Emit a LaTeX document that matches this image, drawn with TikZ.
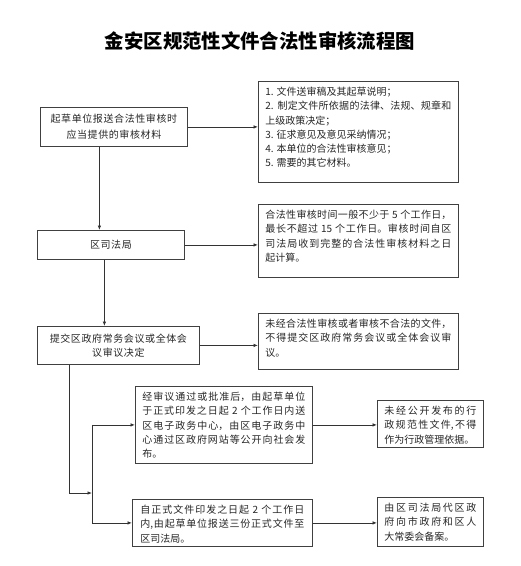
\documentclass[tikz,border=0pt]{standalone}
\usepackage{fontspec}
\setmainfont{Noto Sans CJK SC}
\usetikzlibrary{arrows.meta}
\XeTeXlinebreaklocale "zh"
\XeTeXlinebreakskip=0pt plus 1pt
\tolerance=10000
\hbadness=10000
\begin{document}
\begin{tikzpicture}[x=1pt,y=-1pt,
  box/.style={draw=black!75,line width=0.8pt,inner sep=0pt,text=black!85,
    font=\fontsize{10}{14.2}\selectfont},
  midbox/.style={box,align=center,anchor=north west,
    font=\fontsize{10}{14.2}\selectfont\addfontfeature{LetterSpace=6}},
  notebox/.style={box,anchor=north west,align=justify,text height=14.3pt,inner xsep=7pt},
  arr/.style={draw=black!80,line width=0.8pt,-{Latex[length=4.5pt,width=3.6pt]}},
  wire/.style={draw=black!80,line width=0.8pt}]
\useasboundingbox (0,0) rectangle (521,566);
\node[font=\fontsize{19.4}{23}\selectfont\bfseries] (title) at (260,41) {金安区规范性文件合法性审核流程图};

\node[midbox,minimum width=147pt,minimum height=39pt,
  font=\fontsize{10}{16.5}\selectfont\addfontfeature{LetterSpace=6}] (b1) at (40,107)
  {起草单位报送合法性审核时\\应当提供的审核材料};
\node[midbox,minimum width=147pt,minimum height=29pt] (b2) at (37,230) {区司法局};
\node[midbox,minimum width=162pt,minimum height=38pt] (b3) at (37,326)
  {提交区政府常务会议或全体会\\议审议决定};
\node[notebox,text width=163pt,text depth=62.7pt] (b4) at (135,386)
  {经审议通过或批准后，由起草单位\linebreak 于正式印发之日起 2 个工作日内送\linebreak
   区电子政务中心，由区电子政务中\linebreak 心通过区政府网站等公开向社会发\linebreak 布。};
\node[notebox,text width=164pt,inner xsep=8pt,text depth=32.7pt] (b5) at (132,499)
  {自正式文件印发之日起 2 个工作日\linebreak 内,由起草单位报送三份正式文件至\linebreak 区司法局。};

\node[notebox,text width=186pt,text depth=86.7pt] (r1) at (258,81)
  {1. 文件送审稿及其起草说明；\\
   2. 制定文件所依据的法律、法规、规章和\linebreak 上级政策决定；\\
   3. 征求意见及意见采纳情况；\\
   4. 本单位的合法性审核意见；\\
   5. 需要的其它材料。};
\node[notebox,text width=186pt,text depth=58.7pt] (r2) at (258,204)
  {合法性审核时间一般不少于 5 个工作日，\linebreak 最长不超过 15 个工作日。审核时间自区\linebreak
   司法局收到完整的合法性审核材料之日\linebreak 起计算。};
\node[notebox,text width=186pt,text depth=41.7pt] (r3) at (258,313)
  {未经合法性审核或者审核不合法的文件，\linebreak 不得提交区政府常务会议或全体会议审\linebreak 议。};
\node[notebox,text width=92pt,text depth=32.7pt] (r4) at (377,400)
  {未经公开发布的行\linebreak 政规范性文件,不得\linebreak 作为行政管理依据。};
\node[notebox,text width=92pt,text depth=34.7pt] (r5) at (377,497)
  {由区司法局代区政\linebreak 府向市政府和区人\linebreak 大常委会备案。};

\draw[arr] (b1.east) -- (b1.east -| r1.west);
\draw[arr] (b2.east) -- (b2.east -| r2.west);
\draw[arr] (b3.east) -- (b3.east -| r3.west);
\draw[arr] (b4.east) -- (b4.east -| r4.west);
\draw[arr] (b5.east) -- (b5.east -| r5.west);
\draw[arr] ([xshift=-14.5pt]b1.south) -- ([xshift=-14.5pt]b1.south |- b2.north);
\draw[arr] ([xshift=-6.5pt]b2.south) -- ([xshift=-6.5pt]b2.south |- b3.north);

\coordinate (forktop) at ([xshift=-43pt]b4.west);
\coordinate (forkbot) at (forktop |- b5.west);
\coordinate (join) at (92,493);
\draw[wire] (forktop) -- (forkbot);
\draw[arr] (forktop) -- (b4.west);
\draw[arr] (forkbot) -- (b5.west);
\draw[arr] ([xshift=-49pt]b3.south) |- (join);
\end{tikzpicture}
\end{document}
